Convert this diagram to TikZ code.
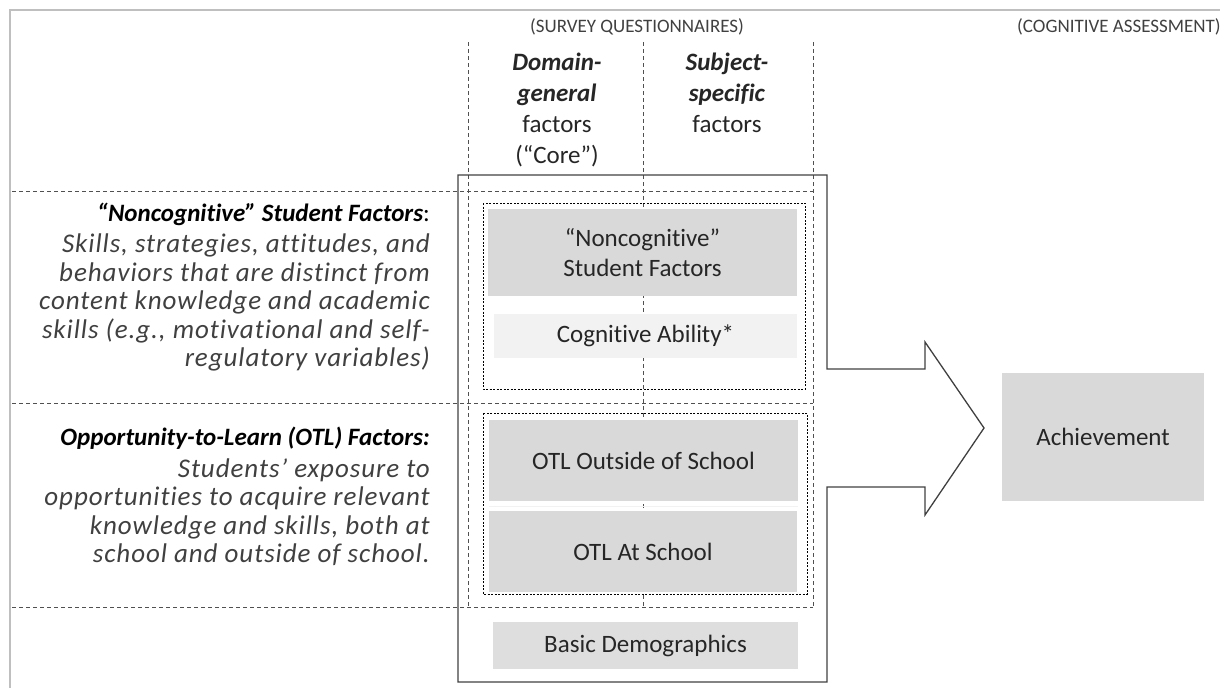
\documentclass[tikz,border=0pt]{standalone}
\usepackage{fontspec}
\setmainfont{Carlito}[Ligatures=NoCommon]
\newfontfamily\SideFont{Carlito}[LetterSpace=3.5,Ligatures=NoCommon]
\usepackage{tikz}
\definecolor{ColFrame}{RGB}{191,191,191}
\definecolor{ColBox}{RGB}{217,217,217}
\definecolor{ColLight}{RGB}{242,242,242}
\definecolor{ColDemo}{RGB}{222,222,222}
\definecolor{ColTxt}{RGB}{38,38,38}
\definecolor{ColGrey}{RGB}{64,64,64}
\definecolor{ColDash}{RGB}{80,80,80}
\tikzstyle{FrameLine}=[ColFrame,line width=1.5pt]
\tikzstyle{SplitLine}=[ColDash,line width=0.9pt,dash pattern=on 4pt off 3pt]
\tikzstyle{GroupLine}=[black,line width=0.8pt,dash pattern=on 2pt off 1.5pt]
\tikzstyle{BlockArrow}=[ColGrey,line width=1.3pt,line join=miter]
\tikzstyle{BoxFactor}=[fill=ColBox,text=ColTxt,inner sep=0pt,align=center,
font=\fontsize{25}{30}\selectfont]
\tikzstyle{TextSide}=[inner sep=0pt,align=right,text=ColGrey,
font=\SideFont\fontsize{27}{28.5}\selectfont\itshape]
\tikzstyle{TextHead}=[inner sep=0pt,align=center,text=ColTxt,
font=\fontsize{25}{31}\selectfont]
\tikzstyle{TextSource}=[inner sep=0pt,text=ColGrey,font=\fontsize{19}{22}\selectfont]

\begin{document}
\begin{tikzpicture}[x=1pt,y=-1pt]
        \clip(0,0)rectangle(1220,688);
        \draw[FrameLine](10,688)--(10,10)--(1220,10);
        \draw[SplitLine](468,42)--(468,607);
        \draw[SplitLine](643,42)--(643,607);
        \draw[SplitLine](813,42)--(813,607);
        \draw[SplitLine](12,191)--(813,191);
        \draw[SplitLine](12,403)--(813,403);
        \draw[SplitLine](12,607)--(813,607);
        \draw[GroupLine](483,203)rectangle(805,389);
        \draw[GroupLine](483,413)rectangle(807,594);
        \node[BoxFactor,minimum width=309pt,minimum height=87pt](noncog)at(642.5,252.5){“Noncognitive”\\Student Factors};
        \node[BoxFactor,fill=ColLight,minimum width=303pt,minimum height=44pt](cogab)at(645.5,336){Cognitive Ability*};
        \node[BoxFactor,minimum width=309pt,minimum height=81pt](otlout)at(643.5,460.5){OTL Outside of School};
        \node[BoxFactor,minimum width=308pt,minimum height=81pt](otlat)at(643,551.5){OTL At School};
        \node[BoxFactor,fill=ColDemo,minimum width=305pt,minimum height=47pt](demo)at(645.5,645.5){Basic Demographics};
        \node[BoxFactor,minimum width=202pt,minimum height=128pt](achieve)at(1103,437){Achievement};
        \draw[ColLight,line width=0.8pt]([yshift=-5pt]otlout.south west)--([yshift=-5pt]otlout.south east);
        \draw[BlockArrow](458,175)--(827,175)--(827,369)--(925,369)--(925,342)--(984,428)
            --(925,515)--(925,487)--(827,487)--(827,682)--(458,682)--cycle;
        \node[TextSource](survey)at(637,27){(SURVEY QUESTIONNAIRES)};
        \node[TextSource,anchor=west](assess)at(1017,27){(COGNITIVE ASSESSMENT)};
        \node[TextHead,anchor=north](domain)at(557,53){\textbf{\textit{Domain-}}\\\textbf{\textit{general}}\\factors\\(“Core”)};
        \node[TextHead,anchor=north](subject)at(727,53){\textbf{\textit{Subject-}}\\\textbf{\textit{specific}}\\factors};
        \node[TextSide,anchor=north east](noncogtxt)at(430,203){{\normalfont\fontsize{25}{28.5}\selectfont\bfseries\itshape\color{black}“Noncognitive” Student Factors\mdseries\upshape:}\\[2.5pt]
            Skills, strategies, attitudes, and\\behaviors that are distinct from\\content knowledge and academic\\
            skills (e.g., motivational and self-\\regulatory variables)};
        \node[TextSide,anchor=north east](otltxt)at(430,427){{\normalfont\fontsize{25}{28.5}\selectfont\bfseries\itshape\color{black}Opportunity-to-Learn (OTL) Factors:}\\[3pt]
            Students’ exposure to\\opportunities to acquire relevant\\knowledge and skills, both at\\school and outside of school.};
    \end{tikzpicture}
\end{document}
